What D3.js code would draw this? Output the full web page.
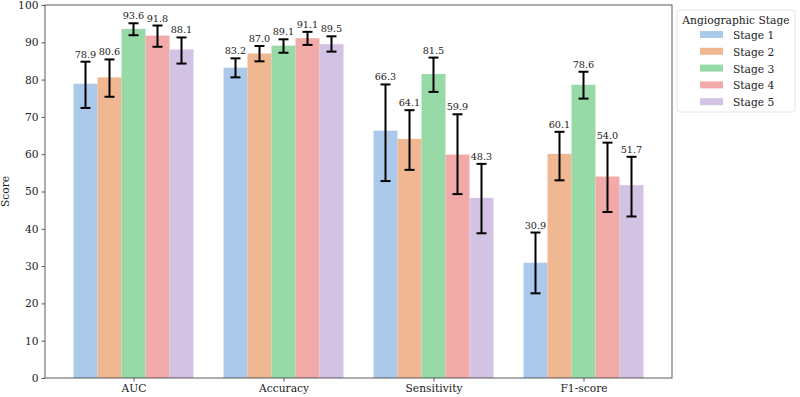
<!DOCTYPE html>
<html>
<head>
<meta charset="utf-8">
<script src="https://cdn.jsdelivr.net/npm/d3@7"></script>
<style>
  body { margin: 0; background: #fff; }
  svg text { font-family: "DejaVu Serif", serif; fill: #222; }
</style>
</head>
<body>
<div id="chart"></div>
<script>
const metrics = ["AUC", "Accuracy", "Sensitivity", "F1-score"];
const stages = ["Stage 1", "Stage 2", "Stage 3", "Stage 4", "Stage 5"];

// score per stage, one value per metric
const stage1 = [78.9, 83.2, 66.3, 30.9];
const stage2 = [80.6, 87.0, 64.1, 60.1];
const stage3 = [93.6, 89.1, 81.5, 78.6];
const stage4 = [91.8, 91.1, 59.9, 54.0];
const stage5 = [88.1, 89.5, 48.3, 51.7];

// error bar ends (lower / upper)
const lower1 = [72.4, 80.6, 52.8, 22.7];
const upper1 = [84.8, 85.7, 78.7, 39.0];
const lower2 = [75.4, 84.9, 55.8, 53.0];
const upper2 = [85.4, 89.0, 71.8, 66.0];
const lower3 = [91.9, 87.2, 76.7, 74.9];
const upper3 = [95.1, 90.8, 85.9, 82.1];
const lower4 = [88.8, 89.3, 49.3, 44.5];
const upper4 = [94.5, 92.8, 70.7, 63.1];
const lower5 = [84.3, 87.5, 38.8, 43.3];
const upper5 = [91.3, 91.6, 57.4, 59.3];

const yTicks = [0, 10, 20, 30, 40, 50, 60, 70, 80, 90, 100];
const colors = ["#abc9ea", "#efb792", "#98daa7", "#f2aaa8", "#d2c3e4"];

const values = [stage1, stage2, stage3, stage4, stage5];
const lowers = [lower1, lower2, lower3, lower4, lower5];
const uppers = [upper1, upper2, upper3, upper4, upper5];

const data = [];
stages.forEach((s, si) => {
    metrics.forEach((m, mi) => {
        data.push({ stage: s, si: si, metric: m, mi: mi,
            value: values[si][mi], lo: lowers[si][mi], hi: uppers[si][mi] });
    });
});

const W = 800, H = 397;
const margin = { top: 5, right: 128, bottom: 19, left: 45 };
const width = W - margin.left - margin.right;
const height = H - margin.top - margin.bottom;

const svg = d3.select("#chart").append("svg")
    .attr("width", W).attr("height", H);
const g = svg.append("g")
    .attr("transform", `translate(${margin.left},${margin.top})`);

// matplotlib-like continuous x: bars 0.16 wide, 5% margin
const x = d3.scaleLinear().domain([-0.59, 3.59]).range([0, width]);
const barW = 0.16;
const y = d3.scaleLinear().domain([0, 100]).range([height, 0]);

g.selectAll(".bar")
    .data(data)
    .enter().append("rect")
    .attr("class", "bar")
    .attr("x", d => x(d.mi - 0.4 + d.si * barW))
    .attr("width", d => x(barW) - x(0))
    .attr("y", d => y(d.value))
    .attr("height", d => y(0) - y(d.value))
    .attr("fill", d => colors[d.si]);

// error bars
const err = g.selectAll(".err").data(data).enter().append("g").attr("class", "err");
const cx = d => x(d.mi - 0.4 + (d.si + 0.5) * barW);
err.append("line")
    .attr("x1", cx).attr("x2", cx)
    .attr("y1", d => y(d.lo)).attr("y2", d => y(d.hi))
    .attr("stroke", "#000").attr("stroke-width", 2);
err.append("line")
    .attr("x1", d => cx(d) - 5).attr("x2", d => cx(d) + 5)
    .attr("y1", d => y(d.hi)).attr("y2", d => y(d.hi))
    .attr("stroke", "#000").attr("stroke-width", 2);
err.append("line")
    .attr("x1", d => cx(d) - 5).attr("x2", d => cx(d) + 5)
    .attr("y1", d => y(d.lo)).attr("y2", d => y(d.lo))
    .attr("stroke", "#000").attr("stroke-width", 2);

g.selectAll(".label")
    .data(data)
    .enter().append("text")
    .attr("class", "label")
    .attr("x", cx)
    .attr("y", d => y(d.hi) - 4)
    .attr("text-anchor", "middle")
    .style("font-size", "9.7px")
    .text(d => d3.format(".1f")(d.value));

// axes
const yAxis = g.append("g")
    .call(d3.axisLeft(y).tickValues(yTicks).tickSize(3.5).tickPadding(3));
const xAxis = g.append("g")
    .attr("transform", `translate(0,${height})`)
    .call(d3.axisBottom(x).tickValues([0, 1, 2, 3]).tickFormat(i => metrics[i]).tickSize(3.5).tickPadding(3));
[yAxis, xAxis].forEach(a => {
    a.select(".domain").remove();
    a.selectAll("line").attr("stroke", "#333").attr("stroke-width", 0.8);
    a.selectAll("text").style("font-size", "10.7px").style("font-family", "DejaVu Serif").attr("fill", "#222");
});

g.append("rect")
    .attr("x", 0).attr("y", 0)
    .attr("width", width).attr("height", height)
    .attr("fill", "none").attr("stroke", "#333").attr("stroke-width", 0.8);

svg.append("text")
    .attr("transform", `translate(9,${margin.top + height / 2}) rotate(-90)`)
    .attr("text-anchor", "middle")
    .style("font-size", "10.7px")
    .text("Score");

// legend
const legend = svg.append("g").attr("transform", "translate(677,10)");
legend.append("rect")
    .attr("width", 118).attr("height", 102)
    .attr("rx", 2)
    .attr("fill", "#fff").attr("stroke", "#ddd").attr("stroke-width", 0.8);
legend.append("text")
    .attr("x", 59).attr("y", 14)
    .attr("text-anchor", "middle")
    .style("font-size", "10.7px")
    .text("Angiographic Stage");
legend.selectAll(".lg-box")
    .data(stages)
    .enter().append("rect")
    .attr("class", "lg-box")
    .attr("x", 23).attr("y", (d, i) => 21 + i * 16.8)
    .attr("width", 23).attr("height", 7)
    .attr("fill", (d, i) => colors[i]);
legend.selectAll(".lg-text")
    .data(stages)
    .enter().append("text")
    .attr("class", "lg-text")
    .attr("x", 56).attr("y", (d, i) => 29 + i * 16.8)
    .style("font-size", "10.7px")
    .text(d => d);
</script>
</body>
</html>
